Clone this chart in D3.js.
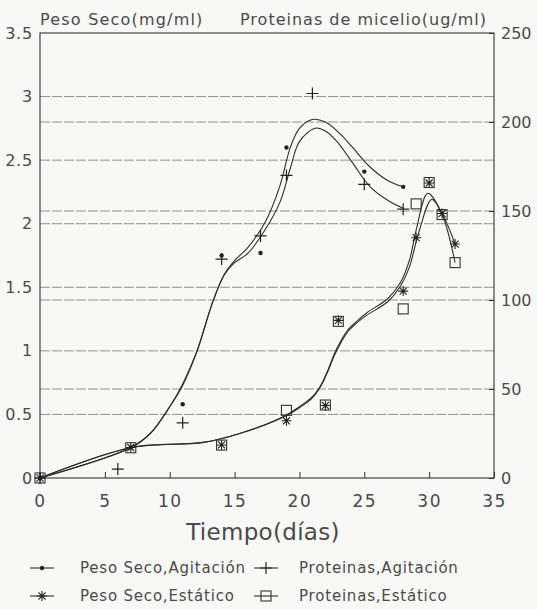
<!DOCTYPE html>
<html>
<head>
<meta charset="utf-8">
<script src="https://cdn.jsdelivr.net/npm/d3@7"></script>
<style>
body { margin: 0; background: #f8f8f6; }
text { font-family: "DejaVu Sans", sans-serif; fill: #4a4a4a; }
</style>
</head>
<body>
<script>
// ejes
var diasTicks = [0, 5, 10, 15, 20, 25, 30, 35];
var ticksIzq = [0, 0.5, 1, 1.5, 2, 2.5, 3, 3.5];
var ticksDer = [0, 50, 100, 150, 200, 250];
var gridIzq = [0.5, 1, 1.5, 2, 2.5, 3];
var gridDer = [50, 100, 150, 200];

// puntos medidos
var secoAgitDias = [0, 7, 11, 14, 17, 19, 25, 28];
var secoAgitVal = [0, 0.24, 0.58, 1.75, 1.77, 2.6, 2.41, 2.29];
var protAgitDias = [0, 6, 11, 14, 17, 19, 21, 25, 28];
var protAgitVal = [0, 5, 31, 123, 136, 170, 216, 165, 151];
var secoEstDias = [0, 7, 14, 19, 22, 23, 28, 29, 30, 31, 32];
var secoEstVal = [0, 0.24, 0.26, 0.45, 0.57, 1.24, 1.47, 1.89, 2.32, 2.08, 1.84];
var protEstDias = [0, 7, 14, 19, 22, 23, 28, 29, 30, 31, 32];
var protEstVal = [0, 17, 18.5, 38, 41, 88, 95, 154, 166, 148, 121];

// curvas ajustadas
var curvaSecoAgitDias = [0, 7, 8.5, 10, 11, 12.1, 13.3, 14.2, 15, 16, 17.4, 18.5, 19.3, 20, 21, 22, 23, 24.1, 25.4, 26.8, 28];
var curvaSecoAgitVal = [0, 0.24, 0.35, 0.56, 0.74, 1.0, 1.38, 1.6, 1.71, 1.81, 2.02, 2.3, 2.6, 2.75, 2.82, 2.8, 2.72, 2.6, 2.45, 2.34, 2.29];
var curvaProtAgitDias = [0, 7, 8.5, 10, 11, 12.1, 13.3, 14.2, 15, 16, 17.4, 18.5, 19.3, 20, 21.2, 22, 22.9, 24.1, 25.4, 26.8, 28];
var curvaProtAgitVal = [0, 17, 25, 40, 52, 71, 98.5, 114, 121, 126, 140, 155, 174, 189, 196.5, 195, 189, 177, 164, 156, 151.5];
var curvaSecoEstDias = [0, 7, 12.6, 15.4, 18.7, 20, 21, 21.6, 22.2, 22.7, 23.2, 23.7, 24.4, 25.2, 26.8, 27.8, 28.5, 29, 29.9, 31, 32];
var curvaSecoEstVal = [0, 0.24, 0.28, 0.35, 0.48, 0.56, 0.64, 0.72, 0.85, 0.98, 1.08, 1.16, 1.23, 1.3, 1.41, 1.54, 1.72, 1.95, 2.24, 2.08, 1.84];
var curvaProtEstDias = [0, 7, 12.6, 15.4, 18.7, 20, 21, 21.6, 22.2, 22.7, 23.2, 23.7, 24.4, 25.2, 26.8, 27.8, 28.5, 29.2, 30.2, 31, 32];
var curvaProtEstVal = [0, 17, 20, 25, 34, 39.5, 45, 51, 60, 69, 76, 82, 87, 91.5, 99, 108, 119, 138, 156.5, 148, 121];

var ancho = 537, alto = 609;
var svg = d3.select('body').append('svg')
  .attr('width', ancho)
  .attr('height', alto);

var x = d3.scaleLinear().domain([0, 35]).range([40, 494]);
var yIzq = d3.scaleLinear().domain([0, 3.5]).range([478, 33]);
var yDer = d3.scaleLinear().domain([0, 250]).range([478, 33]);

var series = [
  {nombre: 'Peso Seco,Agitación', dias: secoAgitDias, val: secoAgitVal, y: yIzq, marca: 'punto',
    cDias: curvaSecoAgitDias, cVal: curvaSecoAgitVal},
  {nombre: 'Proteinas,Agitación', dias: protAgitDias, val: protAgitVal, y: yDer, marca: 'cruz',
    cDias: curvaProtAgitDias, cVal: curvaProtAgitVal},
  {nombre: 'Peso Seco,Estático', dias: secoEstDias, val: secoEstVal, y: yIzq, marca: 'estrella',
    cDias: curvaSecoEstDias, cVal: curvaSecoEstVal},
  {nombre: 'Proteinas,Estático', dias: protEstDias, val: protEstVal, y: yDer, marca: 'cuadro',
    cDias: curvaProtEstDias, cVal: curvaProtEstVal}
];

// lineas de referencia
svg.append('g').selectAll('line').data(gridIzq.map(function(d) { return yIzq(d); })
    .concat(gridDer.map(function(d) { return yDer(d); })))
  .enter().append('line')
  .attr('x1', x(0)).attr('x2', x(35))
  .attr('y1', function(d) { return d; })
  .attr('y2', function(d) { return d; })
  .attr('stroke', '#777')
  .attr('stroke-width', 0.8)
  .attr('stroke-dasharray', '10 2');

svg.append('rect')
  .attr('x', x(0)).attr('y', yIzq(3.5))
  .attr('width', x(35) - x(0))
  .attr('height', yIzq(0) - yIzq(3.5))
  .attr('fill', 'none')
  .attr('stroke', '#333')
  .attr('stroke-width', 1.1);

function estilaEje(g) {
  g.attr('font-family', null).attr('font-size', 16);
  g.select('.domain').remove();
  g.selectAll('.tick line').attr('stroke', '#333');
}

svg.append('g')
  .attr('transform', 'translate(0,' + yIzq(0) + ')')
  .call(d3.axisBottom(x).tickValues(diasTicks).tickSize(-6).tickPadding(17))
  .call(estilaEje)
  .attr('font-size', 17).attr('letter-spacing', 1.5);

svg.append('g')
  .attr('transform', 'translate(' + x(0) + ',0)')
  .call(d3.axisLeft(yIzq).tickValues(ticksIzq).tickSize(0).tickPadding(7).tickFormat(d3.format('')))
  .call(estilaEje)
  .attr('letter-spacing', 0.8);

svg.append('g')
  .attr('transform', 'translate(' + x(35) + ',0)')
  .call(d3.axisRight(yDer).tickValues(ticksDer).tickSize(-5).tickPadding(7))
  .call(estilaEje);

// titulos
svg.append('text').attr('x', 40).attr('y', 25)
  .attr('font-size', 16).attr('letter-spacing', 1.2)
  .text('Peso Seco(mg/ml)');
svg.append('text').attr('x', 240).attr('y', 25)
  .attr('font-size', 16).attr('letter-spacing', 1)
  .text('Proteinas de micelio(ug/ml)');
svg.append('text').attr('x', 263).attr('y', 540)
  .attr('text-anchor', 'middle')
  .attr('font-size', 23).attr('letter-spacing', 0.3)
  .text('Tiempo(días)');

function dibujaMarca(g, tipo, px, py) {
  if (tipo === 'punto') {
    g.append('circle').attr('cx', px).attr('cy', py).attr('r', 2.2).attr('fill', '#222');
  } else if (tipo === 'cruz') {
    g.append('path')
      .attr('d', 'M' + (px - 6) + ',' + py + 'H' + (px + 6) + 'M' + px + ',' + (py - 6) + 'V' + (py + 6))
      .attr('stroke', '#222').attr('stroke-width', 1.2);
  } else if (tipo === 'estrella') {
    var r = 5, d = '';
    [0, 45, 90, 135].forEach(function(a) {
      var rad = a * Math.PI / 180;
      d += 'M' + (px - r * Math.cos(rad)) + ',' + (py - r * Math.sin(rad)) +
           'L' + (px + r * Math.cos(rad)) + ',' + (py + r * Math.sin(rad));
    });
    g.append('path').attr('d', d).attr('stroke', '#222').attr('stroke-width', 1.1);
  } else if (tipo === 'cuadro') {
    g.append('rect').attr('x', px - 5).attr('y', py - 5)
      .attr('width', 10).attr('height', 10)
      .attr('fill', 'none').attr('stroke', '#333').attr('stroke-width', 1.1);
  }
}

// curvas
var gCurvas = svg.append('g');
series.forEach(function(s) {
  var linea = d3.line()
    .x(function(d) { return x(d[0]); })
    .y(function(d) { return s.y(d[1]); })
    .curve(d3.curveCatmullRom.alpha(0.5));
  gCurvas.append('path')
    .datum(d3.zip(s.cDias, s.cVal))
    .attr('d', linea)
    .attr('fill', 'none')
    .attr('stroke', '#2e2e2e')
    .attr('stroke-width', 1.1);
});

// marcas
var gMarcas = svg.append('g');
series.forEach(function(s) {
  for (var i = 0; i < s.dias.length; i++) {
    dibujaMarca(gMarcas, s.marca, x(s.dias[i]), s.y(s.val[i]));
  }
});

// leyenda
var leyenda = [
  {s: series[0], lx: 30, ly: 568, tx: 80},
  {s: series[1], lx: 254, ly: 568, tx: 299},
  {s: series[2], lx: 30, ly: 596, tx: 80},
  {s: series[3], lx: 254, ly: 596, tx: 299}
];
var gLey = svg.append('g');
leyenda.forEach(function(l) {
  gLey.append('line')
    .attr('x1', l.lx).attr('x2', l.lx + 24)
    .attr('y1', l.ly).attr('y2', l.ly)
    .attr('stroke', '#2e2e2e').attr('stroke-width', 1.1);
  dibujaMarca(gLey, l.s.marca, l.lx + 12, l.ly);
  gLey.append('text')
    .attr('x', l.tx).attr('y', l.ly + 5)
    .attr('font-size', 15).attr('letter-spacing', 0.8)
    .text(l.s.nombre);
});
</script>
</body>
</html>
